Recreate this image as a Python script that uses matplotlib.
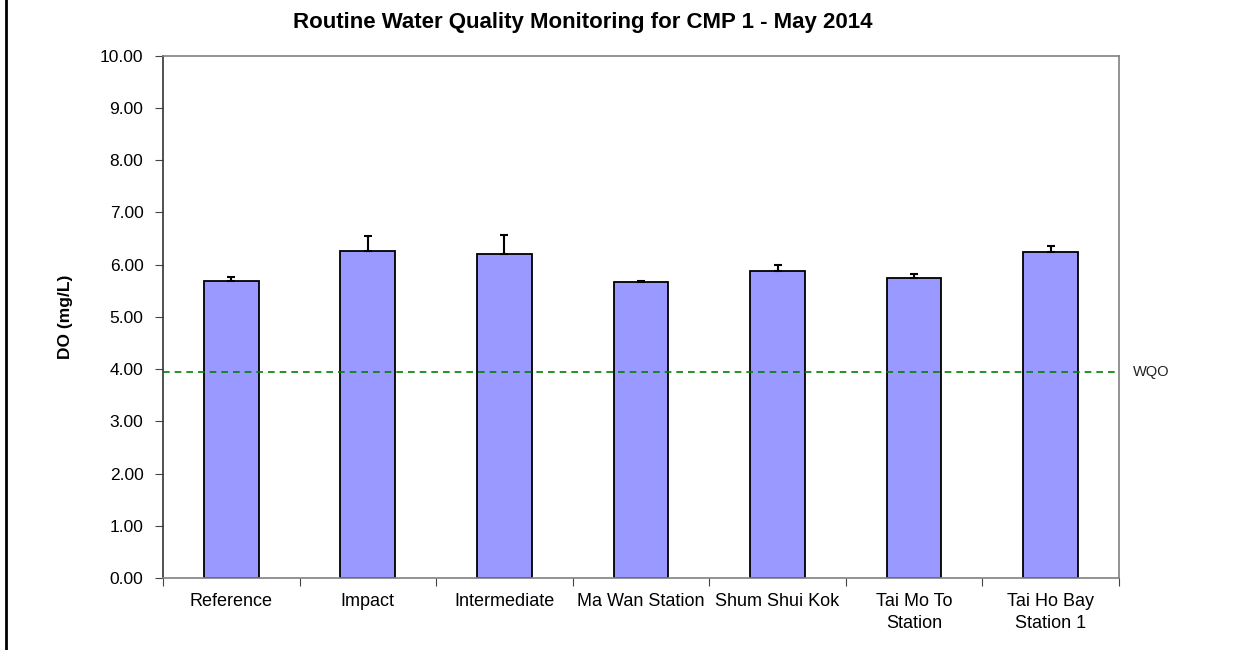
import matplotlib.pyplot as plt
from matplotlib.lines import Line2D
import numpy as np

plt.rcParams['font.family'] = ['Liberation Sans', 'DejaVu Sans']

stations = ['Reference', 'Impact', 'Intermediate', 'Ma Wan Station',
            'Shum Shui Kok', 'Tai Mo To\nStation', 'Tai Ho Bay\nStation 1']
do_mean = [5.68, 6.26, 6.21, 5.66, 5.87, 5.75, 6.25]
do_err = [0.09, 0.29, 0.35, 0.02, 0.12, 0.07, 0.11]
wqo = 3.95

fig = plt.figure(figsize=(12.41, 6.5), dpi=100)
ax = fig.add_axes([0.1313, 0.1108, 0.7704, 0.8035])

x = np.arange(len(stations))
ax.bar(x, do_mean, width=0.4, color='#9999FF', edgecolor='black', linewidth=1.3, zorder=2)
ax.errorbar(x, do_mean, yerr=[np.zeros(len(do_err)), do_err], fmt='none',
            ecolor='black', elinewidth=1.5, capsize=3, capthick=1.5, zorder=3)

ax.axhline(wqo, color='#008000', linestyle=(0, (4, 3)), linewidth=1.2, zorder=4,
           clip_on=False)
ax.text(1.015, wqo, 'WQO', transform=ax.get_yaxis_transform(), fontsize=10.5,
        va='center', ha='left', color='#222222')

ax.set_xlim(-0.5, len(stations) - 0.5)
ax.set_ylim(0, 10)
ax.set_yticks(np.arange(0, 11, 1))
ax.set_yticklabels(['%.2f' % v for v in np.arange(0, 11, 1)])

# category boundaries as major ticks, labels on minor ticks
ax.set_xticks(np.arange(-0.5, len(stations), 1))
ax.set_xticklabels([])
ax.set_xticks(x, minor=True)
ax.set_xticklabels(stations, minor=True, fontsize=13, linespacing=1.35)
ax.tick_params(axis='x', which='major', direction='out', length=6, color='#444444')
ax.tick_params(axis='x', which='minor', length=0, pad=11)
ax.tick_params(axis='y', direction='out', length=6, color='#444444', labelsize=12.5, pad=8)

for s in ax.spines.values():
    s.set_color('#808080')
    s.set_linewidth(1.2)
ax.spines['left'].set_color('#333333')

ax.set_ylabel('DO (mg/L)', fontsize=12.5, fontweight='bold')
ax.yaxis.set_label_coords(-0.094, 0.5)

fig.text(583 / 1241, 0.966, 'Routine Water Quality Monitoring for CMP 1 - May 2014',
         ha='center', va='center', fontsize=16, fontweight='bold')

fig.add_artist(Line2D([6 / 1241, 6 / 1241], [0, 1], color='black', linewidth=2))

fig.savefig('out.png', dpi=100)
